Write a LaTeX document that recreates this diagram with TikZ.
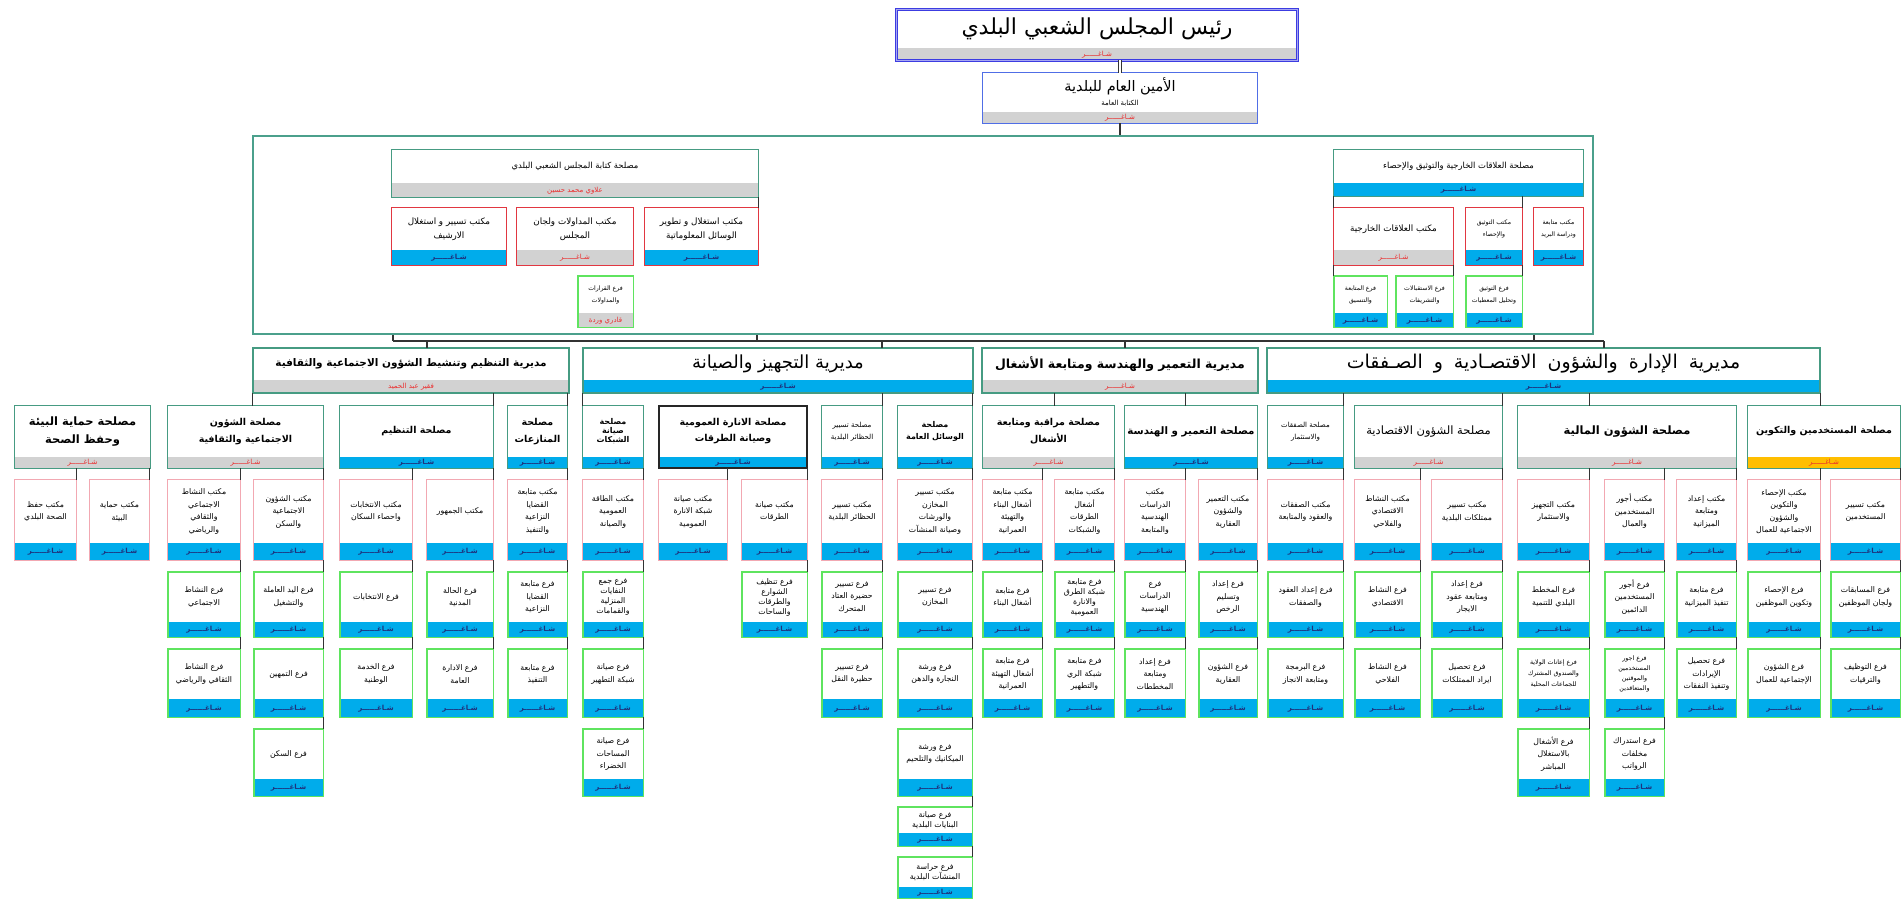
\documentclass[tikz,border=0pt]{standalone}
\usepackage{fontspec}
\newfontfamily\arabicfont[Script=Arabic]{DejaVu Sans}
\TeXXeTstate=1
\usetikzlibrary{fit,calc}

\definecolor{bandblue}{RGB}{0,172,235}
\definecolor{bandgray}{RGB}{210,210,210}
\definecolor{bandorange}{RGB}{255,190,0}
\definecolor{vacred}{RGB}{235,45,45}
\definecolor{vacblue}{RGB}{30,50,125}
\definecolor{tealline}{RGB}{70,155,130}
\definecolor{frameline}{RGB}{75,160,140}
\definecolor{redline}{RGB}{225,55,65}
\definecolor{pinkline}{RGB}{242,168,178}
\definecolor{greenline}{RGB}{95,228,95}
\definecolor{chiefblue}{RGB}{60,60,225}
\definecolor{secblue}{RGB}{80,110,230}

\newcommand\arb[1]{\beginR#1\endR}
\newcommand\vac{\arb{شـاغــــــر}}

% box with a coloured strip at the bottom
% #1 name, #2-#5 corners, #6 look, #7 strip colour, #8 strip text, #9 text
\newcommand\card[9]{%
  \path (#2,#3) coordinate (#1-nw) (#4,#5) coordinate (#1-se);
  \node[fit=(#1-nw)(#1-se), inner sep=0pt, fill=white] (#1) {};
  \fill[band #7] (#1.south west) rectangle ([yshift=\bandh]#1.south east);
  \draw[#6] (#1.south west) rectangle (#1.north east);
  \node[label #7] at ([yshift=\bandh/2]#1.south) {#8};
  \node[#6 text] at ($(#1.north)!.5!([yshift=\bandh]#1.south)$) {#9};
}
\newcommand\wireR[2]{\draw[wire] (#1.south -| #2.north east) -- (#2.north east);}
\newcommand\wireL[2]{\draw[wire] (#1.south -| #2.north west) -- (#2.north west);}

\begin{document}
\begin{tikzpicture}[x=1pt, y=-1pt,
  wire/.style={draw=black!80, line width=1.3pt},
  band blue/.style={fill=bandblue},
  band gray/.style={fill=bandgray},
  band orange/.style={fill=bandorange},
  label blue/.style={text=vacblue, inner sep=0pt, font=\arabicfont\bfseries\fontsize{7}{8}\selectfont},
  label gray/.style={text=vacred, inner sep=0pt, font=\arabicfont\fontsize{7}{8}\selectfont},
  label orange/.style={text=vacred, inner sep=0pt, font=\arabicfont\fontsize{7}{8}\selectfont},
  chief/.style={draw=chiefblue, line width=1pt, double=chiefblue!45, double distance=1pt},
  chief text/.style={inner sep=0pt, font=\arabicfont\fontsize{22}{26}\selectfont},
  secgen/.style={draw=secblue, line width=1.3pt},
  secgen text/.style={inner sep=0pt, align=center, font=\arabicfont\fontsize{14.5}{16}\selectfont},
  fsvc/.style={draw=tealline, line width=1.3pt},
  fsvc text/.style={inner sep=0pt, font=\arabicfont\fontsize{8.4}{10}\selectfont},
  fofc/.style={draw=redline, line width=1.2pt},
  fofc text/.style={inner sep=0pt, align=center, font=\arabicfont\fontsize{8.8}{14}\selectfont},
  fofcs/.style={draw=redline, line width=1.2pt},
  fofcs text/.style={inner sep=0pt, align=center, font=\arabicfont\fontsize{6.2}{12}\selectfont},
  fbr/.style={draw=greenline, line width=1.4pt},
  fbr text/.style={inner sep=0pt, align=center, font=\arabicfont\fontsize{6.2}{12}\selectfont},
  dirb/.style={draw=tealline, line width=2pt},
  dirb text/.style={inner sep=0pt, font=\arabicfont\bfseries\fontsize{10.5}{12}\selectfont},
  dirc/.style={draw=tealline, line width=2pt},
  dirc text/.style={inner sep=0pt, font=\arabicfont\bfseries\fontsize{12.5}{14}\selectfont},
  dirn/.style={draw=tealline, line width=2pt},
  dirn text/.style={inner sep=0pt, font=\arabicfont\fontsize{18}{20}\selectfont},
  dirw/.style={draw=tealline, line width=2pt},
  dirw text/.style={inner sep=0pt, font=\arabicfont\fontsize{19}{21}\selectfont},
  svcb/.style={draw=tealline, line width=1.3pt},
  svcb text/.style={inner sep=0pt, align=center, font=\arabicfont\bfseries\fontsize{9.5}{17}\selectfont},
  svcu/.style={draw=tealline, line width=1.3pt},
  svcu text/.style={inner sep=0pt, align=center, font=\arabicfont\bfseries\fontsize{10.3}{17}\selectfont},
  svcl/.style={draw=tealline, line width=1.3pt},
  svcl text/.style={inner sep=0pt, align=center, font=\arabicfont\bfseries\fontsize{11.5}{18}\selectfont},
  svcs/.style={draw=tealline, line width=1.3pt},
  svcs text/.style={inner sep=0pt, align=center, font=\arabicfont\bfseries\fontsize{8}{12}\selectfont},
  svcn/.style={draw=tealline, line width=1.3pt},
  svcn text/.style={inner sep=0pt, align=center, font=\arabicfont\fontsize{7}{12}\selectfont},
  svcm/.style={draw=tealline, line width=1.3pt},
  svcm text/.style={inner sep=0pt, align=center, font=\arabicfont\fontsize{11.5}{14}\selectfont},
  svcd/.style={draw=black!85, line width=1.5pt},
  svcd text/.style={inner sep=0pt, align=center, font=\arabicfont\bfseries\fontsize{9.5}{16}\selectfont},
  ofc/.style={draw=pinkline, line width=1.2pt},
  ofc text/.style={inner sep=0pt, align=center, font=\arabicfont\fontsize{7.8}{12.5}\selectfont},
  br/.style={draw=greenline, line width=1.4pt},
  br text/.style={inner sep=0pt, align=center, font=\arabicfont\fontsize{7.8}{12.5}\selectfont},
  brs/.style={draw=greenline, line width=1.4pt},
  brs text/.style={inner sep=0pt, align=center, font=\arabicfont\fontsize{6.3}{11}\selectfont}
]
\useasboundingbox (0,0) rectangle (1901,899);

% frame round the services of the secretary
\path (253,136) coordinate (frame-nw) (1593,334) coordinate (frame-se);
\node[fit=(frame-nw)(frame-se), inner sep=0pt, draw=frameline, line width=2.6pt] (frame) {};

% bus towards the directorates
\coordinate (busA) at (427,341);
\coordinate (busB) at (882,341);
\coordinate (busC) at (1125,341);
\coordinate (busD) at (1604,341);
\coordinate (upA) at (757,341);
\coordinate (upB) at (1534,341);
\coordinate (upC) at (393,341);
\draw[wire] (upC) -- (busD);
\draw[wire] (upA |- frame.south) -- (upA);
\draw[wire] (upB |- frame.south) -- (upB);
\draw[wire] (upC |- frame.south) -- (upC);

% top
\def\bandh{12pt}
\card{chief}{897}{10}{1297}{60}{chief}{gray}{\vac}{\arb{رئيس المجلس الشعبي البلدي}}
\def\bandh{11pt}
\card{secgen}{983}{73}{1257}{123}{secgen}{gray}{\vac}{\arb{الأمين العام للبلدية}\\[-2pt]{\fontsize{7}{8}\selectfont\arb{الكتابة العامة}}}
\draw[wire, line width=1pt, double=white, double distance=2.2pt] (secgen.north |- chief.south) -- (secgen.north);
\draw[wire] (secgen.south) -- (secgen.south |- frame.north);

% inside the frame
\def\bandh{14pt}
\card{clerk}{392}{150}{758}{197}{fsvc}{gray}{\arb{علاوي محمد حسين}}{\arb{مصلحة كتابة المجلس الشعبي البلدي}}
\def\bandh{13pt}
\card{extrel}{1334}{150}{1583}{196}{fsvc}{blue}{\vac}{\arb{مصلحة العلاقات الخارجية والتوثيق والإحصاء}}
\def\bandh{15pt}
\card{ofcit}{645}{208}{758}{265}{fofc}{blue}{\vac}{\arb{مكتب استغلال و تطوير}\\\arb{الوسائل المعلوماتية}}
\card{ofcdelib}{517}{208}{633}{265}{fofc}{gray}{\vac}{\arb{مكتب المداولات ولجان}\\\arb{المجلس}}
\card{ofcarch}{392}{208}{506}{265}{fofc}{blue}{\vac}{\arb{مكتب تسيير و استغلال}\\\arb{الارشيف}}
\card{ofcext}{1334}{208}{1453}{265}{fofc}{gray}{\vac}{\arb{مكتب العلاقات الخارجية}}
\card{ofcdoc}{1466}{208}{1522}{265}{fofcs}{blue}{\vac}{\arb{مكتب التوثيق}\\\arb{والإحصاء}}
\card{ofcmail}{1534}{208}{1583}{265}{fofcs}{blue}{\vac}{\arb{مكتب متابعة}\\\arb{ودراسة البريد}}
\def\bandh{14pt}
\card{brdec}{578}{276}{633}{327}{fbr}{gray}{\arb{قادري وردة}}{\arb{فرع القرارات}\\\arb{والمداولات}}
\card{brcoord}{1334}{276}{1387}{327}{fbr}{blue}{\vac}{\arb{فرع المتابعة}\\\arb{والتنسيق}}
\card{brrecep}{1396}{276}{1453}{327}{fbr}{blue}{\vac}{\arb{فرع الاستقبالات}\\\arb{والتشريفات}}
\card{brdata}{1466}{276}{1522}{327}{fbr}{blue}{\vac}{\arb{فرع التوثيق}\\\arb{وتحليل المعطيات}}
\wireR{clerk}{ofcit}
\wireL{extrel}{ofcext} \wireR{extrel}{ofcdoc}
\wireL{ofcext}{brcoord} \wireR{ofcext}{brrecep} \wireR{ofcdoc}{brdata}

% directorates
\def\bandh{13pt}
\card{dirsoc}{253}{348}{569}{393}{dirb}{gray}{\arb{فقير عبد الحميد}}{\arb{مديرية التنظيم وتنشيط الشؤون الاجتماعية والثقافية}}
\card{direq}{583}{348}{973}{393}{dirn}{blue}{\vac}{\arb{مديرية التجهيز والصيانة}}
\card{dirurb}{982}{348}{1258}{393}{dirc}{gray}{\vac}{\arb{مديرية التعمير والهندسة ومتابعة الأشغال}}
\card{diradm}{1267}{348}{1820}{393}{dirw}{blue}{\vac}{\spaceskip=11pt\relax\arb{مديرية الإدارة والشؤون الاقتصـادية و الصـفقات}}
\draw[wire] (busA) -- (busA |- dirsoc.north);
\draw[wire] (busB) -- (busB |- direq.north);
\draw[wire] (busC) -- (busC |- dirurb.north);
\draw[wire] (busD) -- (busD |- diradm.north);

% services
\def\bandh{11pt}
\card{svenv}{15}{406}{150}{468}{svcl}{gray}{\vac}{\arb{مصلحة حماية البيئة}\\\arb{وحفظ الصحة}}
\card{svsoc}{168}{406}{323}{468}{svcb}{gray}{\vac}{\arb{مصلحة الشؤون}\\\arb{الاجتماعية والثقافية}}
\card{svreg}{340}{406}{493}{468}{svcb}{blue}{\vac}{\arb{مصلحة التنظيم}}
\card{svlit}{508}{406}{567}{468}{svcb}{blue}{\vac}{\arb{مصلحة}\\\arb{المنازعات}}
\card{svnet}{583}{406}{643}{468}{svcs}{blue}{\vac}{\arb{مصلحة}\\[-3pt]\arb{صيانة}\\[-3pt]\arb{الشبكات}}
\card{svlight}{659}{406}{807}{468}{svcd}{blue}{\vac}{\arb{مصلحة الانارة العمومية}\\\arb{وصيانة الطرقات}}
\card{svpark}{822}{406}{882}{468}{svcn}{blue}{\vac}{\arb{مصلحة تسيير}\\\arb{الحظائر البلدية}}
\card{svgen}{898}{406}{972}{468}{svcs}{blue}{\vac}{\arb{مصلحة}\\\arb{الوسائل العامة}}
\card{svctl}{983}{406}{1114}{468}{svcb}{gray}{\vac}{\arb{مصلحة مراقبة ومتابعة}\\\arb{الأشغال}}
\card{svurb}{1125}{406}{1257}{468}{svcu}{blue}{\vac}{\arb{مصلحة التعمير و الهندسة}}
\card{svmkt}{1268}{406}{1343}{468}{svcn}{blue}{\vac}{\arb{مصلحة الصفقات}\\\arb{والاستثمار}}
\card{sveco}{1355}{406}{1502}{468}{svcm}{gray}{\vac}{\arb{مصلحة الشؤون الاقتصادية}}
\card{svfin}{1518}{406}{1736}{468}{svcl}{gray}{\vac}{\arb{مصلحة الشؤون المالية}}
\card{svhr}{1748}{406}{1900}{468}{svcb}{orange}{\vac}{\arb{مصلحة المستخدمين والتكوين}}

% offices
\def\bandh{17pt}
\card{ofhyg}{15}{480}{76}{560}{ofc}{blue}{\vac}{\arb{مكتب حفظ}\\\arb{الصحة البلدي}}
\card{ofenv}{90}{480}{149}{560}{ofc}{blue}{\vac}{\arb{مكتب حماية}\\\arb{البيئة}}
\card{ofsport}{168}{480}{240}{560}{ofc}{blue}{\vac}{\arb{مكتب النشاط}\\\arb{الاجتماعي}\\\arb{والثقافي}\\\arb{والرياضي}}
\card{ofhous}{254}{480}{323}{560}{ofc}{blue}{\vac}{\arb{مكتب الشؤون}\\\arb{الاجتماعية}\\\arb{والسكن}}
\card{ofelec}{340}{480}{412}{560}{ofc}{blue}{\vac}{\arb{مكتب الانتخابات}\\\arb{واحصاء السكان}}
\card{ofpub}{427}{480}{493}{560}{ofc}{blue}{\vac}{\arb{مكتب الجمهور}}
\card{oflit}{508}{480}{567}{560}{ofc}{blue}{\vac}{\arb{مكتب متابعة}\\\arb{القضايا}\\\arb{النزاعية}\\\arb{والتنفيذ}}
\card{ofpow}{583}{480}{643}{560}{ofc}{blue}{\vac}{\arb{مكتب الطاقة}\\\arb{العمومية}\\\arb{والصيانة}}
\card{oflamp}{659}{480}{727}{560}{ofc}{blue}{\vac}{\arb{مكتب صيانة}\\\arb{شبكة الانارة}\\\arb{العمومية}}
\card{ofroad}{742}{480}{807}{560}{ofc}{blue}{\vac}{\arb{مكتب صيانة}\\\arb{الطرقات}}
\card{ofpark}{822}{480}{882}{560}{ofc}{blue}{\vac}{\arb{مكتب تسيير}\\\arb{الحظائر البلدية}}
\card{ofstore}{898}{480}{972}{560}{ofc}{blue}{\vac}{\arb{مكتب تسيير}\\\arb{المخازن}\\\arb{والورشات}\\\arb{وصيانة المنشآت}}
\card{ofbuild}{983}{480}{1042}{560}{ofc}{blue}{\vac}{\arb{مكتب متابعة}\\\arb{أشغال البناء}\\\arb{والتهيئة}\\\arb{العمرانية}}
\card{ofworks}{1055}{480}{1114}{560}{ofc}{blue}{\vac}{\arb{مكتب متابعة}\\\arb{أشغال}\\\arb{الطرقات}\\\arb{والشبكات}}
\card{ofstudy}{1125}{480}{1185}{560}{ofc}{blue}{\vac}{\arb{مكتب}\\\arb{الدراسات}\\\arb{الهندسية}\\\arb{والمتابعة}}
\card{ofland}{1199}{480}{1257}{560}{ofc}{blue}{\vac}{\arb{مكتب التعمير}\\\arb{والشؤون}\\\arb{العقارية}}
\card{ofdeal}{1268}{480}{1343}{560}{ofc}{blue}{\vac}{\arb{مكتب الصفقات}\\\arb{والعقود والمتابعة}}
\card{ofagri}{1355}{480}{1420}{560}{ofc}{blue}{\vac}{\arb{مكتب النشاط}\\\arb{الاقتصادي}\\\arb{والفلاحي}}
\card{ofprop}{1432}{480}{1502}{560}{ofc}{blue}{\vac}{\arb{مكتب تسيير}\\\arb{ممتلكات البلدية}}
\card{ofinv}{1518}{480}{1589}{560}{ofc}{blue}{\vac}{\arb{مكتب التجهيز}\\\arb{والاستثمار}}
\card{ofpay}{1605}{480}{1664}{560}{ofc}{blue}{\vac}{\arb{مكتب أجور}\\\arb{المستخدمين}\\\arb{والعمال}}
\card{ofbudg}{1677}{480}{1736}{560}{ofc}{blue}{\vac}{\arb{مكتب إعداد}\\\arb{ومتابعة}\\\arb{الميزانية}}
\card{ofstat}{1748}{480}{1820}{560}{ofc}{blue}{\vac}{\arb{مكتب الإحصاء}\\\arb{والتكوين}\\\arb{والشؤون}\\\arb{الاجتماعية للعمال}}
\card{ofstaff}{1831}{480}{1900}{560}{ofc}{blue}{\vac}{\arb{مكتب تسيير}\\\arb{المستخدمين}}

% branches, first row
\def\bandh{15pt}
\card{bsoc}{168}{572}{240}{637}{br}{blue}{\vac}{\arb{فرع النشاط}\\\arb{الاجتماعي}}
\card{blabor}{254}{572}{323}{637}{br}{blue}{\vac}{\arb{فرع اليد العاملة}\\\arb{والتشغيل}}
\card{belec}{340}{572}{412}{637}{br}{blue}{\vac}{\arb{فرع الانتخابات}}
\card{bcivil}{427}{572}{493}{637}{br}{blue}{\vac}{\arb{فرع الحالة}\\\arb{المدنية}}
\card{blit}{508}{572}{567}{637}{br}{blue}{\vac}{\arb{فرع متابعة}\\\arb{القضايا}\\\arb{النزاعية}}
\card{bwaste}{583}{572}{643}{637}{br}{blue}{\vac}{\arb{فرع جمع}\\[-2.5pt]\arb{النفايات}\\[-2.5pt]\arb{المنزلية}\\[-2.5pt]\arb{والقمامات}}
\card{bclean}{742}{572}{807}{637}{br}{blue}{\vac}{\arb{فرع تنظيف}\\[-2.5pt]\arb{الشوارع}\\[-2.5pt]\arb{والطرقات}\\[-2.5pt]\arb{والساحات}}
\card{bfleet}{822}{572}{882}{637}{br}{blue}{\vac}{\arb{فرع تسيير}\\\arb{حضيرة العتاد}\\\arb{المتحرك}}
\card{bstore}{898}{572}{972}{637}{br}{blue}{\vac}{\arb{فرع تسيير}\\\arb{المخازن}}
\card{bbuild}{983}{572}{1042}{637}{br}{blue}{\vac}{\arb{فرع متابعة}\\\arb{أشغال البناء}}
\card{broads}{1055}{572}{1114}{637}{br}{blue}{\vac}{\arb{فرع متابعة}\\[-2.5pt]\arb{شبكة الطرق}\\[-2.5pt]\arb{والانارة}\\[-2.5pt]\arb{العمومية}}
\card{bstudy}{1125}{572}{1185}{637}{br}{blue}{\vac}{\arb{فرع}\\\arb{الدراسات}\\\arb{الهندسية}}
\card{bpermit}{1199}{572}{1257}{637}{br}{blue}{\vac}{\arb{فرع إعداد}\\\arb{وتسليم}\\\arb{الرخص}}
\card{bcontr}{1268}{572}{1343}{637}{br}{blue}{\vac}{\arb{فرع إعداد العقود}\\\arb{والصفقات}}
\card{becon}{1355}{572}{1420}{637}{br}{blue}{\vac}{\arb{فرع النشاط}\\\arb{الاقتصادي}}
\card{blease}{1432}{572}{1502}{637}{br}{blue}{\vac}{\arb{فرع إعداد}\\\arb{ومتابعة عقود}\\\arb{الايجار}}
\card{bplan}{1518}{572}{1589}{637}{br}{blue}{\vac}{\arb{فرع المخطط}\\\arb{البلدي للتنمية}}
\card{bwage}{1605}{572}{1664}{637}{br}{blue}{\vac}{\arb{فرع أجور}\\\arb{المستخدمين}\\\arb{الدائمين}}
\card{bexec}{1677}{572}{1736}{637}{br}{blue}{\vac}{\arb{فرع متابعة}\\\arb{تنفيذ الميزانية}}
\card{bstat}{1748}{572}{1820}{637}{br}{blue}{\vac}{\arb{فرع الإحصاء}\\\arb{وتكوين الموظفين}}
\card{bexam}{1831}{572}{1900}{637}{br}{blue}{\vac}{\arb{فرع المسابقات}\\\arb{ولجان الموظفين}}

% branches, second row
\def\bandh{18pt}
\card{bcult}{168}{649}{240}{717}{br}{blue}{\vac}{\arb{فرع النشاط}\\\arb{الثقافي والرياضي}}
\card{bappr}{254}{649}{323}{717}{br}{blue}{\vac}{\arb{فرع التمهين}}
\card{bnat}{340}{649}{412}{717}{br}{blue}{\vac}{\arb{فرع الخدمة}\\\arb{الوطنية}}
\card{badm}{427}{649}{493}{717}{br}{blue}{\vac}{\arb{فرع الادارة}\\\arb{العامة}}
\card{bexe}{508}{649}{567}{717}{br}{blue}{\vac}{\arb{فرع متابعة}\\\arb{التنفيذ}}
\card{bsewer}{583}{649}{643}{717}{br}{blue}{\vac}{\arb{فرع صيانة}\\\arb{شبكة التطهير}}
\card{btrans}{822}{649}{882}{717}{br}{blue}{\vac}{\arb{فرع تسيير}\\\arb{حظيرة النقل}}
\card{bcarp}{898}{649}{972}{717}{br}{blue}{\vac}{\arb{فرع ورشة}\\\arb{النجارة والدهن}}
\card{burban}{983}{649}{1042}{717}{br}{blue}{\vac}{\arb{فرع متابعة}\\\arb{أشغال التهيئة}\\\arb{العمرانية}}
\card{birrig}{1055}{649}{1114}{717}{br}{blue}{\vac}{\arb{فرع متابعة}\\\arb{شبكة الري}\\\arb{والتطهير}}
\card{bplans}{1125}{649}{1185}{717}{br}{blue}{\vac}{\arb{فرع إعداد}\\\arb{ومتابعة}\\\arb{المخططات}}
\card{bland}{1199}{649}{1257}{717}{br}{blue}{\vac}{\arb{فرع الشؤون}\\\arb{العقارية}}
\card{bprog}{1268}{649}{1343}{717}{br}{blue}{\vac}{\arb{فرع البرمجة}\\\arb{ومتابعة الانجاز}}
\card{bfarm}{1355}{649}{1420}{717}{br}{blue}{\vac}{\arb{فرع النشاط}\\\arb{الفلاحي}}
\card{brent}{1432}{649}{1502}{717}{br}{blue}{\vac}{\arb{فرع تحصيل}\\\arb{ايراد الممتلكات}}
\card{bsubs}{1518}{649}{1589}{717}{brs}{blue}{\vac}{\arb{فرع إعانات الولاية}\\\arb{والصندوق المشترك}\\\arb{للجماعات المحلية}}
\card{btemp}{1605}{649}{1664}{717}{brs}{blue}{\vac}{\arb{فرع اجور}\\[-1pt]\arb{المستخدمين}\\[-1pt]\arb{والموقتين}\\[-1pt]\arb{والمتعاقدين}}
\card{brev}{1677}{649}{1736}{717}{br}{blue}{\vac}{\arb{فرع تحصيل}\\\arb{الإيرادات}\\\arb{وتنفيذ النفقات}}
\card{bwelf}{1748}{649}{1820}{717}{br}{blue}{\vac}{\arb{فرع الشؤون}\\\arb{الإجتماعية للعمال}}
\card{bhire}{1831}{649}{1900}{717}{br}{blue}{\vac}{\arb{فرع التوظيف}\\\arb{والترقيات}}

% branches, lower rows
\def\bandh{17pt}
\card{bhome}{254}{729}{323}{796}{br}{blue}{\vac}{\arb{فرع السكن}}
\card{bgreen}{583}{729}{643}{796}{br}{blue}{\vac}{\arb{فرع صيانة}\\\arb{المساحات}\\\arb{الخضراء}}
\card{bmech}{898}{729}{972}{796}{br}{blue}{\vac}{\arb{فرع ورشة}\\\arb{الميكانيك والتلحيم}}
\card{bdirect}{1518}{729}{1589}{796}{br}{blue}{\vac}{\arb{فرع الأشغال}\\\arb{بالاستغلال}\\\arb{المباشر}}
\card{barrear}{1605}{729}{1664}{796}{br}{blue}{\vac}{\arb{فرع استدراك}\\\arb{مخلفات}\\\arb{الرواتب}}
\def\bandh{13pt}
\card{bbldg}{898}{807}{972}{846}{br}{blue}{\vac}{\arb{فرع صيانة}\\[-3pt]\arb{البنايات البلدية}}
\def\bandh{11pt}
\card{bguard}{898}{857}{972}{898}{br}{blue}{\vac}{\arb{فرع حراسة}\\[-3pt]\arb{المنشآت البلدية}}

% directorates to services
\draw[wire] (dirsoc.south west) -- (dirsoc.south west |- svsoc.north);
\wireR{dirsoc}{svreg} \wireR{dirsoc}{svlit}
\wireL{direq}{svnet} \wireR{direq}{svpark} \wireR{direq}{svgen}
\draw[wire] (dirurb.south -| ofworks.north west) -- (svctl.north -| ofworks.north west);
\draw[wire] (dirurb.south -| ofstudy.north east) -- (svurb.north -| ofstudy.north east);
\wireR{diradm}{svmkt} \wireR{diradm}{sveco}
\draw[wire] (diradm.south -| ofinv.north east) -- (svfin.north -| ofinv.north east);
\draw[wire] (diradm.south east) -- (diradm.south east |- svhr.north);

% services to offices
\wireR{svenv}{ofhyg} \wireR{svenv}{ofenv}
\wireR{svsoc}{ofsport} \wireR{svsoc}{ofhous}
\wireR{svreg}{ofelec} \wireR{svreg}{ofpub}
\wireR{svlit}{oflit} \wireR{svnet}{ofpow}
\wireR{svlight}{oflamp} \wireR{svlight}{ofroad}
\wireR{svpark}{ofpark} \wireR{svgen}{ofstore}
\wireR{svctl}{ofbuild} \wireR{svctl}{ofworks}
\wireR{svurb}{ofstudy} \wireR{svurb}{ofland}
\wireR{svmkt}{ofdeal}
\wireR{sveco}{ofagri} \wireR{sveco}{ofprop}
\wireR{svfin}{ofinv} \wireR{svfin}{ofpay} \wireR{svfin}{ofbudg}
\wireR{svhr}{ofstat} \wireR{svhr}{ofstaff}

% offices to branches
\wireR{ofsport}{bsoc} \wireR{ofhous}{blabor}
\wireR{ofelec}{belec} \wireR{ofpub}{bcivil}
\wireR{oflit}{blit} \wireR{ofpow}{bwaste} \wireR{ofroad}{bclean}
\wireR{ofpark}{bfleet} \wireR{ofstore}{bstore}
\wireR{ofbuild}{bbuild} \wireR{ofworks}{broads}
\wireR{ofstudy}{bstudy} \wireR{ofland}{bpermit}
\wireR{ofdeal}{bcontr} \wireR{ofagri}{becon} \wireR{ofprop}{blease}
\wireR{ofinv}{bplan} \wireR{ofpay}{bwage} \wireR{ofbudg}{bexec}
\wireR{ofstat}{bstat} \wireR{ofstaff}{bexam}

% branch stacks
\wireR{bsoc}{bcult} \wireR{blabor}{bappr} \wireR{bappr}{bhome}
\wireR{belec}{bnat} \wireR{bcivil}{badm} \wireR{blit}{bexe}
\wireR{bwaste}{bsewer} \wireR{bsewer}{bgreen}
\wireR{bfleet}{btrans}
\wireR{bstore}{bcarp} \wireR{bcarp}{bmech} \wireR{bmech}{bbldg} \wireR{bbldg}{bguard}
\wireR{bbuild}{burban} \wireR{broads}{birrig}
\wireR{bstudy}{bplans} \wireR{bpermit}{bland}
\wireR{bcontr}{bprog} \wireR{becon}{bfarm} \wireR{blease}{brent}
\wireR{bplan}{bsubs} \wireR{bwage}{btemp} \wireR{bexec}{brev}
\wireR{bsubs}{bdirect} \wireR{btemp}{barrear}
\wireR{bstat}{bwelf} \wireR{bexam}{bhire}
\end{tikzpicture}
\end{document}
